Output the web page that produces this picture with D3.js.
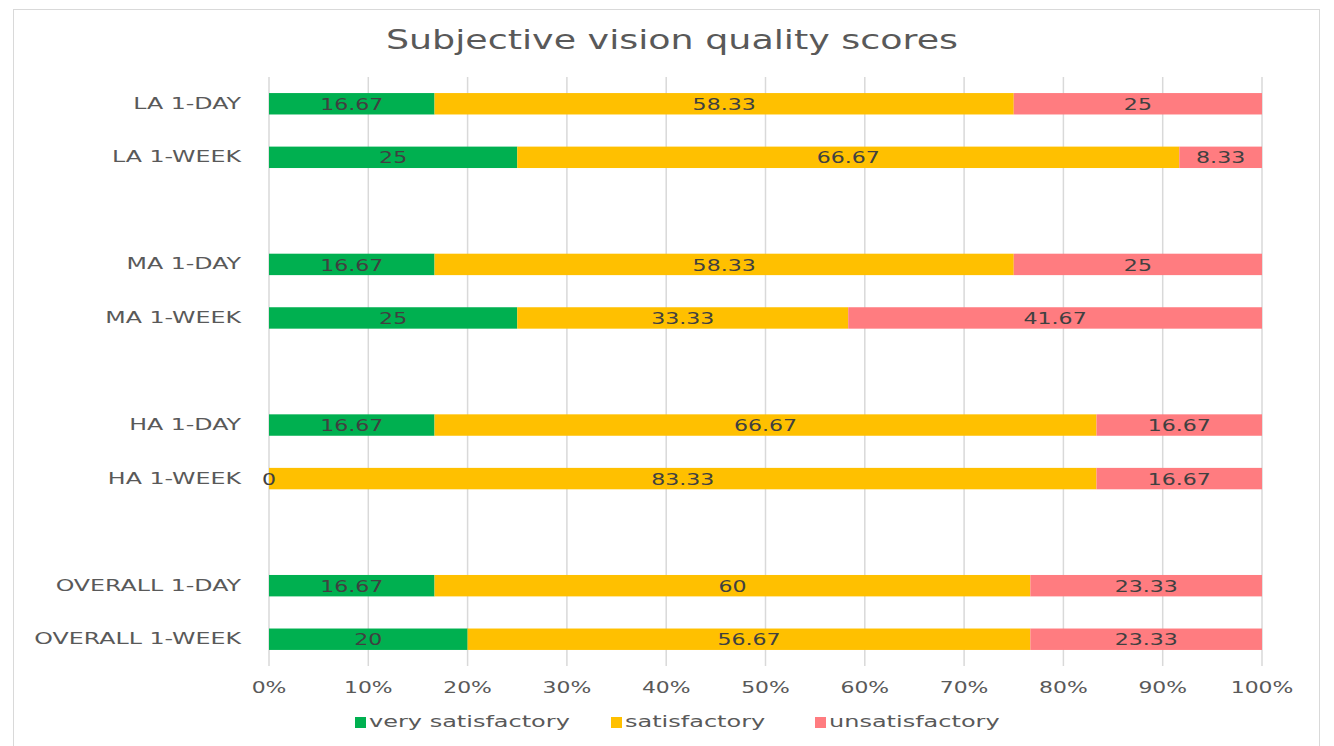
<!DOCTYPE html>
<html><head><meta charset="utf-8">
<script src="https://cdn.jsdelivr.net/npm/d3@7"></script>
<style>body{margin:0;background:#fff;}text{font-family:"DejaVu Sans",sans-serif;}</style>
</head><body><svg id="c" width="1334" height="746"></svg>
<script>
const categories = ["LA 1-DAY","LA 1-WEEK","","MA 1-DAY","MA 1-WEEK","","HA 1-DAY","HA 1-WEEK","","OVERALL 1-DAY","OVERALL 1-WEEK"];
const verySatisfactory = [16.67,25,null,16.67,25,null,16.67,0,null,16.67,20];
const satisfactory     = [58.33,66.67,null,58.33,33.33,null,66.67,83.33,null,60,56.67];
const unsatisfactory   = [25,8.33,null,25,41.67,null,16.67,16.67,null,23.33,23.33];
const seriesNames = ["very satisfactory","satisfactory","unsatisfactory"];
const seriesColors = ["#00B050","#FFC000","#FF7C80"];
const tickValues = [0,0.1,0.2,0.3,0.4,0.5,0.6,0.7,0.8,0.9,1];
const title = "Subjective vision quality scores";

const svg = d3.select("#c");
function stext(sel, x, y, str, size, anchor, color, sx){
  return sel.append("text").attr("transform",`translate(${x},${y}) scale(${sx},1)`)
    .attr("text-anchor",anchor).attr("dominant-baseline","central")
    .attr("font-size",size).attr("fill",color).text(str);
}

svg.append("rect").attr("x",13.5).attr("y",9.5).attr("width",1306).attr("height",745).attr("fill","#fff").attr("stroke","#d9d9d9");

const keys = categories.map((c,i)=>"k"+i);
const x = d3.scaleLinear().domain([0,1]).range([269,1262]);
const y = d3.scaleBand().domain(keys).range([77,666]).paddingInner(0.6).paddingOuter(0.3);

// gridlines
svg.append("g").selectAll("line").data(tickValues).join("line")
  .attr("x1",d=>x(d)).attr("x2",d=>x(d)).attr("y1",77).attr("y2",666)
  .attr("stroke","#d9d9d9").attr("stroke-width",1.5);

stext(svg, 672, 40, title, 26, "middle", "#595959", 1.4);

const series = [verySatisfactory, satisfactory, unsatisfactory];
const rows = categories.map((c,i)=>({key:keys[i], label:c, vals:series.map(s=>s[i])}));
const data = rows.filter(r=>r.vals[0]!==null);

data.forEach(r=>{
  const total = d3.sum(r.vals);
  let acc = 0;
  r.vals.forEach((v,j)=>{
    const x0 = x(acc/total), x1 = x((acc+v)/total);
    svg.append("rect").attr("x",x0).attr("y",y(r.key)).attr("width",x1-x0).attr("height",y.bandwidth()).attr("fill",seriesColors[j]);
    acc += v;
  });
  acc = 0;
  r.vals.forEach((v,j)=>{
    const x0 = x(acc/total), x1 = x((acc+v)/total);
    stext(svg, (x0+x1)/2, y(r.key)+y.bandwidth()/2+1, String(v), 15, "middle", "#404040", 1.47);
    acc += v;
  });
});

// category labels
rows.forEach(r=>{
  if(r.label) stext(svg, 241, y(r.key)+y.bandwidth()/2, r.label, 15, "end", "#595959", 1.58);
});

// x axis labels
tickValues.forEach(t=>{
  stext(svg, x(t), 688, d3.format(".0%")(t), 15, "middle", "#595959", 1.46);
});

// legend
const legendX = [355,611,815];
seriesNames.forEach((n,i)=>{
  svg.append("rect").attr("x",legendX[i]).attr("y",717).attr("width",11).attr("height",11).attr("fill",seriesColors[i]);
  stext(svg, legendX[i]+14, 722, n, 15, "start", "#595959", 1.6);
});
</script></body></html>
